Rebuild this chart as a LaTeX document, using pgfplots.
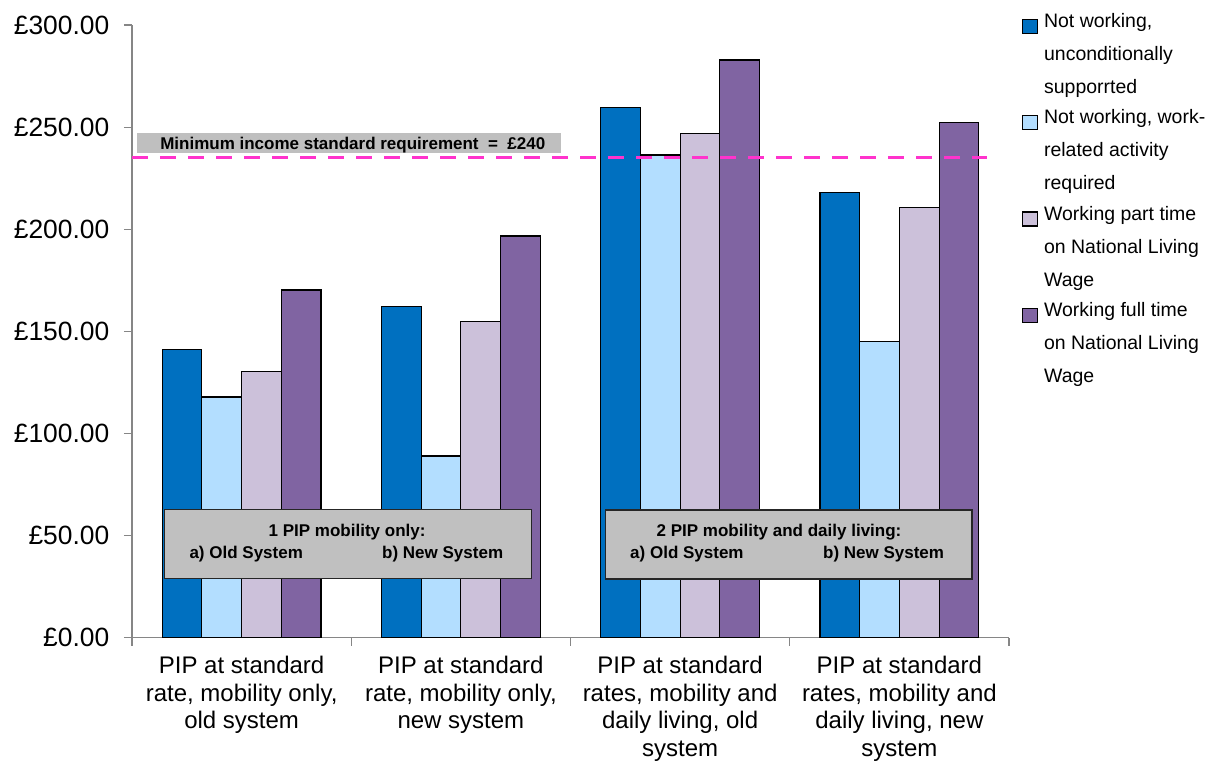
\documentclass[border=0pt]{standalone}
\usepackage{fontspec}
\setmainfont{Liberation Sans}
\usepackage{pgfplots}
\pgfplotsset{compat=1.18}
\definecolor{cA}{HTML}{0070C0}
\definecolor{cB}{HTML}{B3DEFF}
\definecolor{cC}{HTML}{CCC1DA}
\definecolor{cD}{HTML}{8064A2}
\definecolor{pinkline}{HTML}{FF33CC}
\definecolor{axgray}{HTML}{868686}
\definecolor{boxgray}{HTML}{C0C0C0}
\definecolor{lblgray}{HTML}{BFBFBF}
\pgfplotsset{mybar/.style={fill=#1, draw=black, line width=0.9pt,
  legend image code/.code={\draw[##1, line width=0.9pt] (0pt,-4.5pt) rectangle (11pt,6pt);}}}
\newcommand{\legtxt}[1]{\parbox[t]{135pt}{\raggedright #1}}
\begin{document}
\begin{tikzpicture}
\path[use as bounding box] (-99pt,-91.7pt) rectangle (810pt,478.3pt);
\begin{axis}[at={(0pt,0pt)}, anchor=south west,
  scale only axis, width=657.75pt, height=459.5pt,
  ymin=0, ymax=300, xmin=-0.5, xmax=3.5,
  axis lines*=left,
  axis line style={axgray, line width=0.9pt},
  ybar=0pt, bar width=29.8pt,
  ytick={0,50,...,300},
  tick align=outside, major tick length=6pt,
  tick style={axgray, line width=0.9pt},
  yticklabel={£\pgfmathprintnumber[fixed,fixed zerofill,precision=2,assume math mode=true]{\tick}},
  yticklabel style={font=\fontsize{19.8}{23}\selectfont, xshift=-7.5pt},
  xtick={-0.5,0.5,1.5,2.5,3.5}, xticklabels={},
  extra x ticks={0,1,2,3},
  extra x tick labels={{PIP at standard\\rate, mobility only,\\old system},
    {PIP at standard\\rate, mobility only,\\new system},
    {PIP at standard\\rates, mobility and\\daily living, old\\system},
    {PIP at standard\\rates, mobility and\\daily living, new\\system}},
  extra x tick style={major tick length=0pt,
    tick label style={align=center, font=\fontsize{18}{20.6}\selectfont, anchor=north, yshift=-10.5pt}},
  legend style={at={(axis description cs:1.0148,1.0196)}, anchor=north west,
    draw=none, fill=none, inner sep=0pt, row sep=56.7pt,
    font=\fontsize{14.6}{24.75}\selectfont,
    /tikz/every odd column/.append style={column sep=4.5pt},
    nodes={inner sep=0pt}, cells={anchor=base west}},
]
\addplot[mybar=cA] coordinates {(0,141.3) (1,162.3) (2,259.7) (3,218.1)};
\addplot[mybar=cB] coordinates {(0,117.9) (1,89.0) (2,236.4) (3,144.9)};
\addplot[mybar=cC] coordinates {(0,130.5) (1,154.8) (2,247.0) (3,210.7)};
\addplot[mybar=cD] coordinates {(0,170.3) (1,196.7) (2,282.9) (3,252.1)};
\addlegendentry{\legtxt{Not working,\\unconditionally\\supporrted}}
\addlegendentry{\legtxt{Not working, work-\\related activity\\required}}
\addlegendentry{\legtxt{Working part time\\on National Living\\Wage}}
\addlegendentry{\legtxt{Working full time\\on National Living\\Wage}}
\addplot[sharp plot, forget plot, pinkline, line width=2.5pt, dash pattern=on 12pt off 9pt]
  coordinates {(-0.5,235.2) (3.4,235.2)};
\fill[lblgray] (axis cs:-0.476,237.5) rectangle (axis cs:1.458,247.0);
\node[anchor=base, font=\bfseries\fontsize{12.75}{15}\selectfont, inner sep=0pt]
  at (axis cs:0.507,239.2) {Minimum income standard requirement \ = \ £240};
\draw[fill=boxgray, draw=black!85, line width=1.1pt] (axis cs:-0.351,29.1) rectangle (axis cs:1.322,62.9);
\draw[fill=boxgray, draw=black!85, line width=1.1pt] (axis cs:1.659,28.7) rectangle (axis cs:3.331,62.5);
\begin{scope}[every node/.style={anchor=base, inner sep=0pt, font=\bfseries\fontsize{12.75}{15}\selectfont}]
\node at (axis cs:0.481,49.5) {1 PIP mobility only:};
\node at (axis cs:0.021,38.9) {a) Old System};
\node at (axis cs:0.917,38.9) {b) New System};
\node at (axis cs:2.451,49.5) {2 PIP mobility and daily living:};
\node at (axis cs:2.031,38.9) {a) Old System};
\node at (axis cs:2.928,38.9) {b) New System};
\end{scope}
\end{axis}
\end{tikzpicture}
\end{document}
